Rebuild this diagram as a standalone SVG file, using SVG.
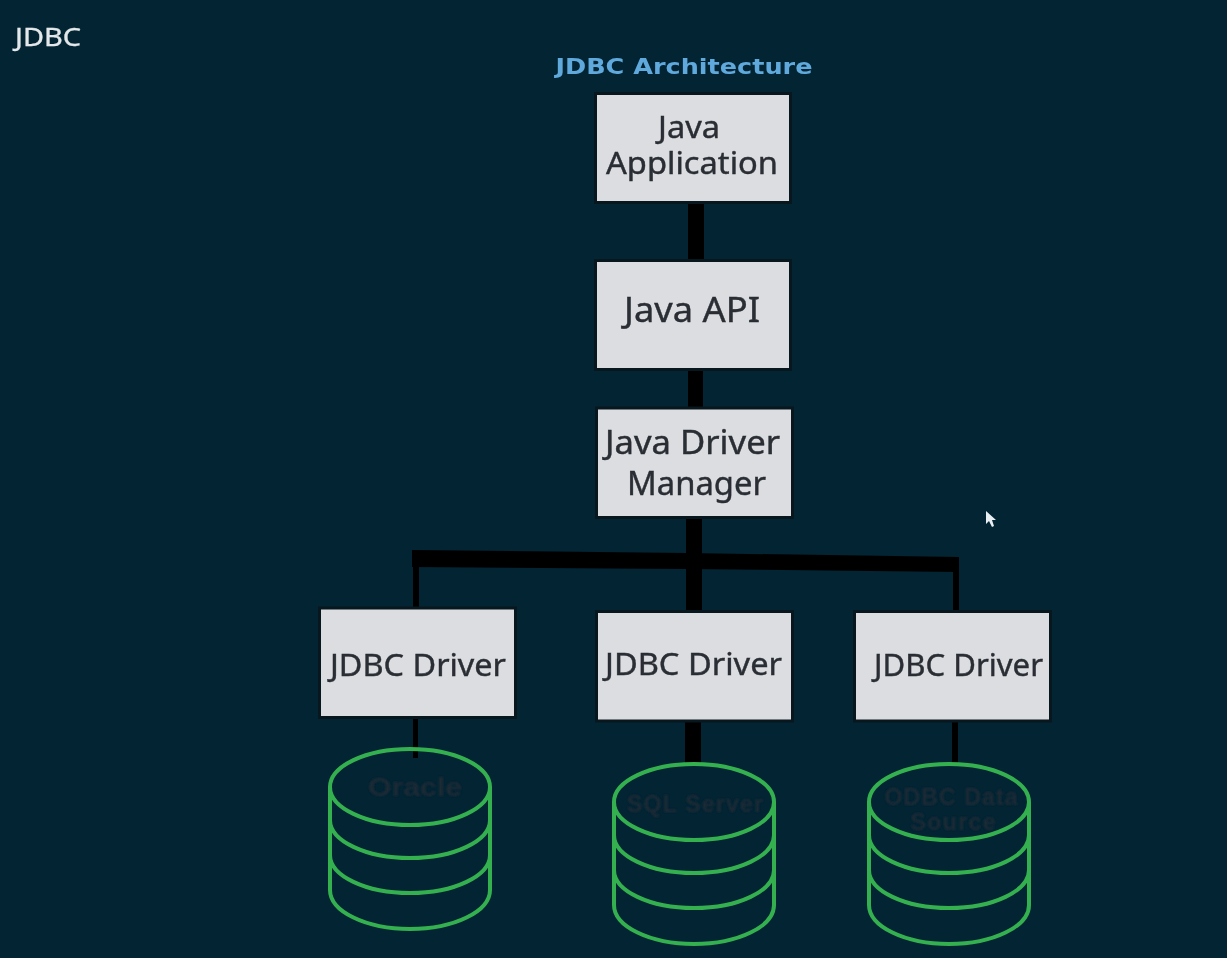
<svg xmlns="http://www.w3.org/2000/svg" width="1227" height="958" viewBox="0 0 1227 958">
<style>
.box{fill:#dcdde0;stroke:#08161e;stroke-width:3}
.lbl{font-family:"Noto Sans","Open Sans",sans-serif;fill:#2a2d34;stroke:#2a2d34;stroke-width:.4;text-anchor:middle;filter:url(#soft)}
.db{fill:none;stroke:#35b050;stroke-width:4;filter:url(#soft)}
.dbt{font-family:"Liberation Sans",Arial,sans-serif;font-weight:bold;font-size:23px;fill:#1f2a36;text-anchor:middle;filter:url(#blur)}
.wire{fill:#000}
</style>
<defs>
<filter id="soft" x="-5%" y="-5%" width="110%" height="110%"><feGaussianBlur stdDeviation=".45"/></filter>
<filter id="blur" x="-10%" y="-30%" width="120%" height="160%"><feGaussianBlur stdDeviation="1"/></filter>
<g id="cyl">
<path class="db" d="M-80 38A80 38 0 0 1 80 38A80 38 0 0 1 -80 38M-80 38V141A80 39 0 0 0 80 141V38M-80 71A80 38 0 0 0 80 71M-80 106A80 38 0 0 0 80 106"/>
</g>
</defs>
<rect width="1227" height="958" fill="#022433"/>
<text x="15" y="46" font-family="Noto Sans,sans-serif" font-size="25" fill="#e4e8ea" stroke="#e4e8ea" stroke-width=".3" textLength="66" lengthAdjust="spacingAndGlyphs" filter="url(#soft)">JDBC</text>
<text x="684" y="74" font-family="DejaVu Sans,sans-serif" font-weight="bold" font-size="22" fill="#5fa9dd" text-anchor="middle" textLength="257" lengthAdjust="spacingAndGlyphs" filter="url(#soft)">JDBC Architecture</text>
<g id="connectors" class="wire">
<rect x="688" y="202" width="16" height="59"/>
<rect x="688" y="369" width="15" height="40"/>
<rect x="686" y="517" width="16" height="95"/>
<polygon points="412,550 686,553 959,557 959,572 686,569 412,567"/>
<rect x="413" y="560" width="6" height="49"/>
<rect x="953" y="565" width="6" height="47"/>
<rect x="413" y="717" width="5" height="41"/>
<rect x="685" y="720" width="16" height="43"/>
<rect x="952" y="720" width="6" height="43"/>
</g>
<g id="java-application"><rect class="box" x="595.500" y="93.500" width="195" height="109"/><text class="lbl" font-size="30" x="689" y="138" textLength="62" lengthAdjust="spacingAndGlyphs">Java</text><text class="lbl" font-size="30" x="692" y="174" textLength="172" lengthAdjust="spacingAndGlyphs">Application</text></g>
<g id="java-api"><rect class="box" x="595.500" y="260.500" width="195" height="109"/><text class="lbl" font-size="34" x="692" y="322" textLength="136" lengthAdjust="spacingAndGlyphs">Java API</text></g>
<g id="java-driver-manager"><rect class="box" x="596.500" y="408" width="196" height="109.500"/><text class="lbl" font-size="32" x="692.500" y="454" textLength="175" lengthAdjust="spacingAndGlyphs">Java Driver</text><text class="lbl" font-size="32" x="696.500" y="495" textLength="139" lengthAdjust="spacingAndGlyphs">Manager</text></g>
<g id="jdbc-driver-1"><rect class="box" x="319.500" y="608" width="196" height="109.500"/><text class="lbl" font-size="30" x="418" y="676" textLength="176" lengthAdjust="spacingAndGlyphs">JDBC Driver</text></g>
<g id="jdbc-driver-2"><rect class="box" x="596.500" y="611.500" width="196" height="109.500"/><text class="lbl" font-size="30" x="693.500" y="675" textLength="177" lengthAdjust="spacingAndGlyphs">JDBC Driver</text></g>
<g id="jdbc-driver-3"><rect class="box" x="854.500" y="611.500" width="196" height="109.500"/><text class="lbl" font-size="30" x="958.500" y="676" textLength="169" lengthAdjust="spacingAndGlyphs">JDBC Driver</text></g>
<g id="oracle"><use href="#cyl" x="410" y="749"/><text class="dbt" x="415" y="796" style="font-size:25px" textLength="94" lengthAdjust="spacingAndGlyphs">Oracle</text></g>
<g id="sql-server"><use href="#cyl" x="694" y="764"/><text class="dbt" x="695" y="812" textLength="136" lengthAdjust="spacing">SQL Server</text></g>
<g id="odbc-source"><use href="#cyl" x="949" y="764"/><text class="dbt" x="951" y="805" textLength="133" lengthAdjust="spacing">ODBC Data</text><text class="dbt" x="953" y="830" textLength="85" lengthAdjust="spacing">Source</text></g>
<polygon points="986,511 986,524 989,521 992,527 994,526 992,520 996,520" fill="#e8eef2"/>
</svg>
